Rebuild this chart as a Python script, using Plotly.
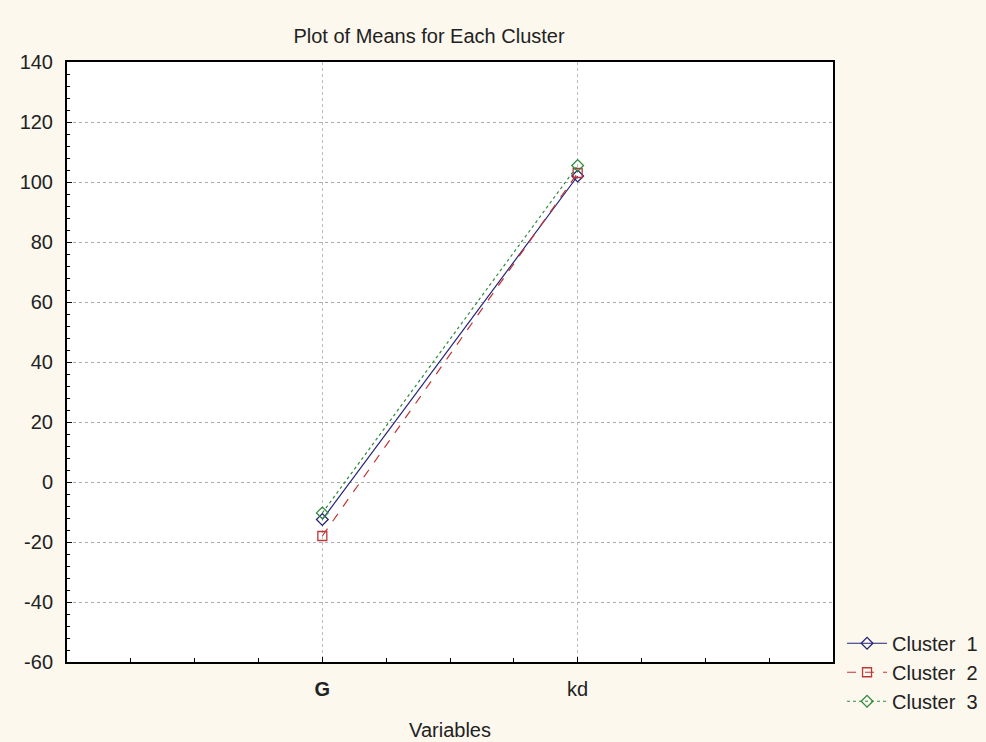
import plotly.graph_objects as go

variables = ["G", "kd"]
tick_labels = ["<b>G</b>", "kd"]
y_tick_values = [-60, -40, -20, 0, 20, 40, 60, 80, 100, 120, 140]
y_tick_labels = [str(v) for v in y_tick_values]
cluster_names = ["Cluster  1", "Cluster  2", "Cluster  3"]
cluster1 = [-12.5, 102.0]
cluster2 = [-18.0, 103.0]
cluster3 = [-10.3, 105.5]

series = [cluster1, cluster2, cluster3]
colors = ["#23237a", "#c03636", "#2e8b3e"]
dashes = ["solid", "dash", "dot"]
symbols = ["diamond-open", "square-open", "diamond-open"]

x_pos = list(range(len(variables)))

fig = go.Figure()
for name, vals, c, d, s in zip(cluster_names, series, colors, dashes, symbols):
    fig.add_trace(go.Scatter(
        x=x_pos, y=vals, name=name, mode="lines+markers",
        line=dict(color=c, width=1.2, dash=d),
        marker=dict(symbol=s, size=9, color=c, line=dict(width=1.3, color=c)),
    ))

fig.update_layout(
    width=986, height=742,
    paper_bgcolor="#fcf8ee", plot_bgcolor="white",
    margin=dict(l=67, r=153, t=62, b=80, autoexpand=False),
    font=dict(family="Liberation Sans, Arial, sans-serif", color="#222"),
    title=dict(text="Plot of Means for Each Cluster", x=429 / 986, xanchor="center",
               y=1 - 36 / 742, yanchor="middle", font=dict(size=20)),
    showlegend=True,
    legend=dict(xref="container", yref="container",
                x=0.854, xanchor="left", y=0.094, yanchor="middle",
                font=dict(size=20), bgcolor="rgba(0,0,0,0)",
                tracegroupgap=0, itemwidth=40),
    xaxis=dict(
        range=[-1, 2], tickmode="array", tickvals=x_pos, ticktext=tick_labels,
        automargin=False,
        showgrid=True, gridcolor="#bbbbbb", griddash="dot", gridwidth=1,
        zeroline=False, showline=True, linecolor="black", linewidth=2, mirror=True,
        ticks="inside", ticklen=5, tickcolor="black",
        minor=dict(dtick=0.25, tick0=-1, ticks="inside", ticklen=4, tickcolor="black", showgrid=False),
        tickfont=dict(size=20, color="#222"),
        ticklabelstandoff=8,
        title=dict(text="Variables", font=dict(size=20), standoff=24),
    ),
    yaxis=dict(
        range=[-60, 140], tickmode="array", tickvals=y_tick_values, ticktext=y_tick_labels,
        automargin=False,
        showgrid=True, gridcolor="#aaaaaa", griddash="dot", gridwidth=1,
        zeroline=False, showline=True, linecolor="black", linewidth=2, mirror=True,
        ticks="inside", ticklen=5, tickcolor="black",
        minor=dict(dtick=4, tick0=-60, ticks="inside", ticklen=3, tickcolor="black", showgrid=False),
        tickfont=dict(size=20, color="#222"),
        ticklabelstandoff=8,
    ),
)

fig.write_html("out.html", config={"displayModeBar": False},
               post_script="document.body.style.margin='0px';document.body.style.overflow='hidden';")
